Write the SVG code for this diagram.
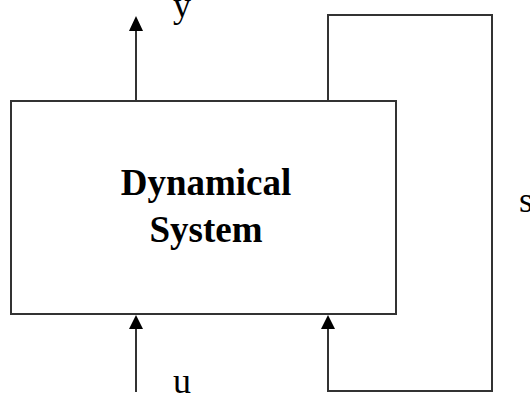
<svg xmlns="http://www.w3.org/2000/svg" width="530" height="400" viewBox="0 0 530 400">
<defs>
<style>
.ln{fill:none;stroke:#333;stroke-width:2}
.lbl{font-family:"Liberation Serif",serif;font-size:36px;fill:#000}
.ttl{font-family:"Liberation Serif",serif;font-size:37px;font-weight:bold;fill:#000;text-anchor:middle}
</style>
</defs>
<rect width="530" height="400" fill="#fff"/>
<g id="system">
<rect x="11" y="101" width="385" height="213" class="ln"/>
<text class="ttl" x="206" y="195">Dynamical</text>
<text class="ttl" x="206" y="242">System</text>
</g>
<g id="connectors">
<line x1="136" y1="101" x2="136" y2="30" class="ln"/>
<path d="M136,16 L143,31 L129,31 Z" fill="#000"/>
<line x1="136" y1="392" x2="136" y2="328" class="ln"/>
<path d="M136,315 L143,329 L129,329 Z" fill="#000"/>
<polyline points="328,101 328,15 492,15 492,391 328,391 328,328" class="ln"/>
<path d="M328,315 L335,329 L321,329 Z" fill="#000"/>
</g>
<g id="labels">
<text class="lbl" x="173" y="17">y</text>
<text class="lbl" x="173" y="393">u</text>
<text class="lbl" x="519" y="212">s</text>
</g>
</svg>
